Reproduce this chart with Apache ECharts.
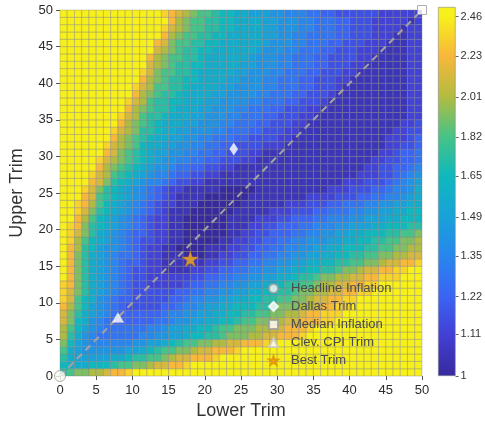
<!DOCTYPE html>
<html>
<head>
<meta charset="utf-8">
<script src="https://cdn.jsdelivr.net/npm/echarts@6/dist/echarts.min.js"></script>
<style>
html,body{margin:0;padding:0;background:#ffffff;}
#chart{width:485px;height:430px;}
</style>
</head>
<body>
<div id="chart"></div>
<script>
// ---- data ----
const lowerTrim = [0,1,2,3,4,5,6,7,8,9,10,11,12,13,14,15,16,17,18,19,20,21,22,23,24,25,26,27,28,29,30,31,32,33,34,35,36,37,38,39,40,41,42,43,44,45,46,47,48,49];
const upperTrim = [0,1,2,3,4,5,6,7,8,9,10,11,12,13,14,15,16,17,18,19,20,21,22,23,24,25,26,27,28,29,30,31,32,33,34,35,36,37,38,39,40,41,42,43,44,45,46,47,48,49];
// value of each cell, coded as one character per cell (lookup table below)
const levelCodes  = '0123456789abcdefghij';
const levelValues = [1.00,1.05,1.11,1.16,1.22,1.28,1.35,1.42,1.49,1.57,1.65,1.73,1.82,1.92,2.01,2.12,2.23,2.34,2.46,2.60];
// one string per upper trim (row 0 = upper trim 0), characters along lower trim 0..49
const cellRows = [
'bcddeefggh iijjjjjjjj jjjjjjjjjj jjjjjjjjjj jjjjjjjjjj',
'a999aaabcc ddeffgghii jjjjjjjjjj jjjjjjjjjj jjjjjjjjjj',
'b98888899a bbccdeffgg ghiijjjjjj jjjjjjjjjj jjjjjjjjjj',
'c987777778 89abccddef fggghiijjj jjjjjjjjjj jjjjjjjjjj',
'da87666666 77889abccd deeffggghh iijjjjjjjj jjjjjjjjjj',
'eb97655555 56677889aa bbcdddeeff ggghiijjjj jjjjjjjjjj',
'eca8765555 556678899a abccdddeef fggghiijjj jjjjjjjjjj',
'fda9765444 4445567788 99aabccdde effggghhii jjjjjjjjjj',
'fdb9876544 4444566778 899aabbccd deefgghhhi ijjjjjjjjj',
'geca876543 3333445667 8899aaabbc dddeefgghh iijjjjjjjj',
'hfca976544 3333344566 778899aabb ccddeffggh hiijjjjjjj',
'hfdb987654 3333334455 66778899aa bbcddeeffg ghhiijjjjj',
'hgdb987654 3322222344 5566778899 abbccdeeff gghhiijjjj',
'igdb987654 3322222233 4455667788 99abbcddee ffgghhhiij',
'igdb987654 3322111122 3344556677 8899aabbcd deffgghhii',
'igdb987654 4322111111 2233445566 778899aabb ccddeffggh',
'jgdb987655 4322111000 1122334455 66778899aa bbccddeeff',
'jgeba87765 4322110000 1112233445 566778899a aabbccddee',
'jheca98765 4332211000 0011223344 5566777889 9aabbccdde',
'jhfdb98765 4432211000 0001122334 4455667788 99aaabbccd',
'jhgdba9876 5432211000 0001112233 4445566677 88899aaabb',
'jigeca9876 5432211000 0001111222 3344455666 7788899aaa',
'jihfdba987 6543211100 0000111112 2233344555 66778899aa',
'jjhgeca987 6543221110 0000011111 1222333445 5566778899',
'jjigfcba98 7654321111 0000001111 1111222233 3445566789',
'jjihfdba98 7654322111 1100000111 1111111222 3334456679',
'jjiigfdba9 8766543322 1111111111 1111111112 2233345678',
'jjjihfecba 9876654433 2211111111 1111111111 1222334567',
'jjjiigedcb a987765544 3322111111 1111111111 1122334456',
'jjjjihfedc ba98776655 4433322111 1111111111 1112233445',
'jjjjjigfdc ba98877665 5443332211 1111111111 1111223445',
'jjjjjihfed ca99887766 5544333322 2111111111 1111122334',
'jjjjjjiged cba9988776 6555443333 2211111111 1111122234',
'jjjjjjihfe dbba998877 7665554433 3221111111 1111112233',
'jjjjjjjige dcba999887 7766555443 3322111111 1111111223',
'jjjjjjjihf ecbba99988 7776655544 3332211111 1111111122',
'jjjjjjjjig edcbba9998 8777665554 4333221111 1111111122',
'jjjjjjjjih fecbbaa999 8877776655 5443332111 1111111122',
'jjjjjjjjji gedcbba999 9887777665 5544333211 1111111122',
'jjjjjjjjji hfeccbba99 9988777766 5554433321 1111111122',
'jjjjjjjjjj igedcbbaa9 9998877766 5554433322 1111111122',
'jjjjjjjjjj ihfdccbba9 9999887776 6555443332 2111111122',
'jjjjjjjjjj jifedcbbaa 9999988777 6655544333 2211111122',
'jjjjjjjjjj jigedccbba 9999998777 6655544333 3221111122',
'jjjjjjjjjj jjifedcbba a999999877 7665554433 3222111122',
'jjjjjjjjjj jjigfdccbb aa99999987 7766555443 3322211122',
'jjjjjjjjjj jjjigedccb baa9999988 7766555544 3332221122',
'jjjjjjjjjj jjjjhfedcc bbaa999988 7776655544 3332222122',
'jjjjjjjjjj jjjjigedcc bbaa999988 7776655544 3332222212',
'jjjjjjjjjj jjjjhgfedc cbaa998887 7666554433 3333222222'
];
const markerNames = ['Headline Inflation','Dallas Trim','Median Inflation','Clev. CPI Trim','Best Trim'];
const markerLower = [0, 24, 50, 8, 18];
const markerUpper = [0, 31, 50, 8, 16];
const diagLower = [0, 50];
const diagUpper = [0, 50];
const colorbarLabels = ['1','1.11','1.22','1.35','1.49','1.65','1.82','2.01','2.23','2.46'];
const colorbarTop = 2.52;
const parulaColors = ['#372a9c','#4240d6','#3a64f4','#2886ee','#18a2d9','#0fb8bd','#46c388','#b1bc41','#f8b73b','#f7f01a'];

// ---- build ----
const FONT = '"Liberation Sans", Arial, Helvetica, sans-serif';
const cells = [];
cellRows.forEach(function (row, j) {
  const codes = row.replace(/ /g, '');
  for (let i = 0; i < codes.length; i++) {
    const v = levelValues[levelCodes.indexOf(codes[i])];
    cells.push([lowerTrim[i], upperTrim[j], v, Math.log(v)]);
  }
});
const cbLogTicks = colorbarLabels.map(function (s) { return Math.log(parseFloat(s)); });
const cbMax = Math.log(colorbarTop);
const gradStops = parulaColors.map(function (c, k) {
  return { offset: Math.min(1, cbLogTicks[k] / cbMax), color: c };
});
gradStops.push({ offset: 1, color: parulaColors[parulaColors.length - 1] });

const starPath = 'path://M50,2 L61.2,36.2 L97.6,36.2 L68.2,57.6 L79.4,92 L50,70.8 L20.6,92 L31.8,57.6 L2.4,36.2 L38.8,36.2 Z';
const markerStyles = [
  { symbol: 'circle', size: 11, itemStyle: { color: '#fbfbf4', borderColor: '#9a9a9a', borderWidth: 1 } },
  { symbol: 'diamond', size: [8, 12], itemStyle: { color: '#ffffff', borderColor: '#ffffff', borderWidth: 0.5 } },
  { symbol: 'rect', size: 9, itemStyle: { color: '#ffffff', borderColor: '#9a9a9a', borderWidth: 1 } },
  { symbol: 'triangle', size: [12, 10], itemStyle: { color: '#ffffff', borderColor: '#c8c8c8', borderWidth: 0.5 } },
  { symbol: starPath, size: 16, itemStyle: { color: '#f6a91a', borderColor: '#e08f00', borderWidth: 0.5 } }
];

const series = [
  {
    type: 'custom',
    xAxisIndex: 0, yAxisIndex: 0,
    data: cells,
    encode: { x: 0, y: 1 },
    silent: true,
    z: 1,
    renderItem: function (params, api) {
      const x = api.value(0), y = api.value(1);
      const p0 = api.coord([x, y]);
      const p1 = api.coord([x + 1, y + 1]);
      return {
        type: 'rect',
        shape: { x: p0[0], y: p1[1], width: p1[0] - p0[0], height: p0[1] - p1[1] },
        style: { fill: api.visual('color'), stroke: 'rgba(125,125,125,0.6)', lineWidth: 0.6 }
      };
    }
  },
  {
    type: 'line',
    xAxisIndex: 0, yAxisIndex: 0,
    data: diagLower.map(function (x, i) { return [x, diagUpper[i]]; }),
    symbol: 'none',
    silent: true,
    z: 3,
    lineStyle: { color: '#a3a3a3', width: 2, type: [7, 5] }
  }
];
markerNames.forEach(function (name, k) {
  series.push({
    type: 'scatter',
    name: name,
    xAxisIndex: 0, yAxisIndex: 0,
    data: [[markerLower[k], markerUpper[k]]],
    symbol: markerStyles[k].symbol,
    symbolSize: markerStyles[k].size,
    symbolKeepAspect: true,
    itemStyle: markerStyles[k].itemStyle,
    clip: false,
    z: 5
  });
});
series.push({
  type: 'bar',
  xAxisIndex: 1, yAxisIndex: 1,
  data: [cbMax],
  barWidth: '100%',
  silent: true,
  itemStyle: {
    color: { type: 'linear', x: 0, y: 1, x2: 0, y2: 0, colorStops: gradStops },
    borderColor: '#8a8a8a',
    borderWidth: 0.6
  }
});

const option = {
  animation: false,
  backgroundColor: '#ffffff',
  textStyle: { fontFamily: FONT },
  grid: [
    { left: 56, top: 10, width: 366, height: 366 },
    { left: 438, top: 7, width: 19, height: 369 }
  ],
  visualMap: {
    type: 'continuous',
    show: false,
    seriesIndex: 0,
    dimension: 3,
    min: 0,
    max: cbLogTicks[cbLogTicks.length - 1],
    inRange: { color: parulaColors }
  },
  legend: {
    orient: 'vertical',
    left: 263,
    top: 277,
    itemWidth: 9,
    itemHeight: 9,
    itemGap: 5,
    data: markerNames,
    textStyle: { fontFamily: FONT, fontSize: 13, color: '#4a4a4a', padding: [0, 0, 0, 8] }
  },
  xAxis: [
    {
      type: 'value', gridIndex: 0, min: 0, max: 50, interval: 5,
      name: 'Lower Trim', nameLocation: 'middle', nameGap: 26,
      nameTextStyle: { fontFamily: FONT, fontSize: 18, color: '#333333' },
      axisLine: { show: false },
      axisTick: { show: true, length: 4, lineStyle: { color: '#555555' } },
      axisLabel: { fontFamily: FONT, fontSize: 13, color: '#2b2b2b', margin: 8 },
      splitLine: { show: false }
    },
    {
      type: 'category', gridIndex: 1, data: [''],
      axisLine: { show: false }, axisTick: { show: false }, axisLabel: { show: false }
    }
  ],
  yAxis: [
    {
      type: 'value', gridIndex: 0, min: 0, max: 50, interval: 5,
      name: 'Upper Trim', nameLocation: 'middle', nameGap: 34, nameRotate: 90,
      nameTextStyle: { fontFamily: FONT, fontSize: 18, color: '#333333' },
      axisLine: { show: false },
      axisTick: { show: true, length: 4, lineStyle: { color: '#555555' } },
      axisLabel: { fontFamily: FONT, fontSize: 13, color: '#2b2b2b', margin: 7 },
      splitLine: { show: false }
    },
    {
      type: 'value', gridIndex: 1, position: 'right', min: 0, max: cbMax,
      axisLine: { show: false },
      splitLine: { show: false },
      axisTick: { show: true, length: 3, customValues: cbLogTicks, lineStyle: { color: '#666666' } },
      axisLabel: {
        fontFamily: FONT, fontSize: 11, color: '#333333', margin: 5,
        customValues: cbLogTicks,
        formatter: function (v) {
          for (let k = 0; k < cbLogTicks.length; k++) {
            if (Math.abs(cbLogTicks[k] - v) < 1e-6) return colorbarLabels[k];
          }
          return '';
        }
      }
    }
  ],
  series: series
};

const chart = echarts.init(document.getElementById('chart'), null, { renderer: 'canvas' });
chart.setOption(option);
</script>
</body>
</html>
